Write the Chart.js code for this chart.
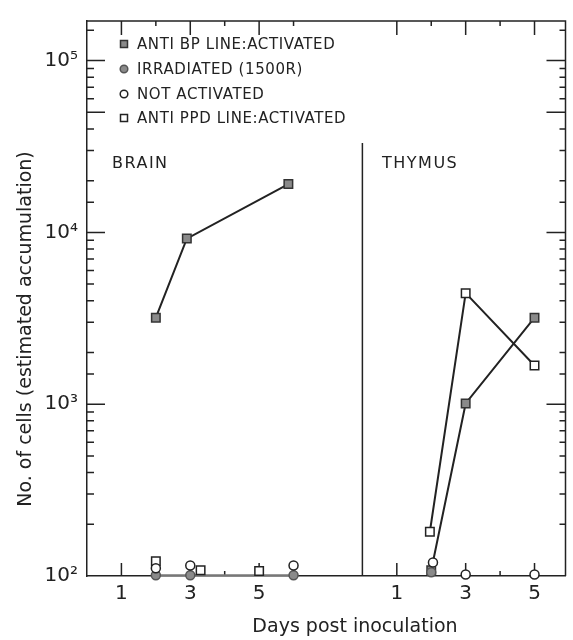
<!DOCTYPE html>
<html>
<head>
<meta charset="utf-8">
<script src="https://cdn.jsdelivr.net/npm/chart.js@4.4.0/dist/chart.umd.min.js"></script>
<style>
  html, body { margin: 0; padding: 0; background: #fff; }
</style>
</head>
<body>
<canvas id="chart" width="573" height="640"></canvas>
<script>
// days are counted separately in each panel; thymus is drawn 8 days to the right
const thymusOffset = 8;
const xTickDays = [1, 3, 5];
const yDecades = [100, 1000, 10000, 100000];

// BRAIN
const brainAntiBpDays = [2, 2.9, 5.85];
const brainAntiBp = [3190, 9200, 19100];
const brainIrrDays = [2, 3, 6];
const brainIrr = [101, 101, 101];
const brainNotActDays = [2, 3, 6];
const brainNotAct = [111, 115, 115];
const brainPpdDays = [2, 3.3, 5];
const brainPpd = [122, 108, 107];

// THYMUS
const thymAntiBpDays = [2, 3, 5];
const thymAntiBp = [108, 1010, 3190];
const thymIrrDays = [2];
const thymIrr = [105];
const thymNotActDays = [2.05, 3, 5];
const thymNotAct = [120, 102, 102];
const thymPpdDays = [1.96, 3, 5];
const thymPpd = [181, 4430, 1680];

const legendLabels = [
  'ANTI BP LINE:ACTIVATED',
  'IRRADIATED (1500R)',
  'NOT ACTIVATED',
  'ANTI PPD LINE:ACTIVATED'
];

const ink = '#222';
const grey = '#8a8a8a';
const font = 'DejaVu Sans';

const filledSquare = { pointStyle: 'rect', pointRadius: 6, pointBackgroundColor: grey, pointBorderColor: '#333' };
const filledCircle = { pointStyle: 'circle', pointRadius: 4.5, pointBackgroundColor: grey, pointBorderColor: '#555' };
const openCircle = { pointStyle: 'circle', pointRadius: 4.5, pointBackgroundColor: '#fff', pointBorderColor: ink };
const openSquare = { pointStyle: 'rect', pointRadius: 6, pointBackgroundColor: '#fff', pointBorderColor: ink };

function series(label, days, vals, offset, marker, showLine, lineColor) {
  return Object.assign({
    label: label,
    data: days.map((d, i) => ({ x: d + offset, y: vals[i] })),
    showLine: showLine,
    borderColor: lineColor || ink,
    borderWidth: 2,
    pointBorderWidth: 1.5,
    clip: false
  }, marker);
}

const datasets = [
  series('not activated (brain)', brainNotActDays, brainNotAct, 0, openCircle, false),
  series('not activated (thymus)', thymNotActDays, thymNotAct, thymusOffset, openCircle, false),
  series('anti PPD (brain)', brainPpdDays, brainPpd, 0, openSquare, false),
  series('anti PPD (thymus)', thymPpdDays, thymPpd, thymusOffset, openSquare, true),
  series('irradiated (brain)', brainIrrDays, brainIrr, 0, filledCircle, true, '#777'),
  series('irradiated (thymus)', thymIrrDays, thymIrr, thymusOffset, filledCircle, false),
  series('anti BP (brain)', brainAntiBpDays, brainAntiBp, 0, filledSquare, true),
  series('anti BP (thymus)', thymAntiBpDays, thymAntiBp, thymusOffset, filledSquare, true)
];

function drawMarker(ctx, kind, x, y) {
  ctx.lineWidth = 1.5;
  ctx.beginPath();
  if (kind.pointStyle === 'rect') ctx.rect(x - 3.5, y - 3.5, 7, 7);
  else ctx.arc(x, y, 3.8, 0, Math.PI * 2);
  ctx.fillStyle = kind.pointBackgroundColor;
  ctx.strokeStyle = kind.pointBorderColor;
  ctx.fill();
  ctx.stroke();
}

// frame, inward tick marks and the panel divider
const frame = {
  id: 'frame',
  beforeDatasetsDraw(chart) {
    const { ctx, chartArea: a, scales: { x, y } } = chart;
    ctx.save();
    ctx.strokeStyle = ink;
    ctx.lineWidth = 1.5;
    ctx.beginPath();
    ctx.moveTo(a.left, a.top);
    ctx.lineTo(a.right, a.top);
    ctx.lineTo(a.right, a.bottom);
    ctx.stroke();

    y.ticks.forEach(t => {
      const v = t.value;
      if (v <= y.min || v >= y.max) return;
      const m = Math.round(v / Math.pow(10, Math.floor(Math.log10(v) + 1e-9)));
      const long = m === 1 || v === 50000;
      const py = y.getPixelForValue(v);
      ctx.beginPath();
      ctx.moveTo(a.left, py); ctx.lineTo(a.left + (long ? 18 : 7), py);
      ctx.moveTo(a.right, py); ctx.lineTo(a.right - (long ? 19 : 6), py);
      ctx.stroke();
    });

    const panels = [[0, 6], [thymusOffset, 5]];
    panels.forEach(([off, last]) => {
      for (let d = 1; d <= last; d++) {
        const px = x.getPixelForValue(d + off);
        const long = d % 2 === 1;
        ctx.beginPath();
        ctx.moveTo(px, a.top); ctx.lineTo(px, a.top + (long ? 14 : 5));
        ctx.moveTo(px, a.bottom); ctx.lineTo(px, a.bottom - (long ? 13 : 5));
        ctx.stroke();
      }
    });

    const dx = x.getPixelForValue(thymusOffset);
    ctx.beginPath();
    ctx.moveTo(dx, 143);
    ctx.lineTo(dx, a.bottom);
    ctx.stroke();
    ctx.restore();
  },
  afterDraw(chart) {
    const { ctx } = chart;
    ctx.save();
    ctx.fillStyle = ink;
    ctx.textBaseline = 'middle';

    // legend
    const markers = [filledSquare, filledCircle, openCircle, openSquare];
    const rows = [44, 69, 94, 118];
    ctx.font = '15px "' + font + '"';
    ctx.letterSpacing = '0.6px';
    legendLabels.forEach((txt, i) => {
      drawMarker(ctx, markers[i], 124, rows[i]);
      ctx.fillStyle = ink;
      ctx.textAlign = 'left';
      ctx.fillText(txt, 137, rows[i] + 1);
    });

    // panel names
    ctx.font = '16px "' + font + '"';
    ctx.letterSpacing = '1.5px';
    ctx.fillText('BRAIN', 112, 164);
    ctx.fillText('THYMUS', 382, 164);

    // axis titles
    ctx.letterSpacing = '0px';
    ctx.font = '19px "' + font + '"';
    ctx.textAlign = 'center';
    ctx.fillText('Days post inoculation', 355, 627);
    ctx.translate(26, 329);
    ctx.rotate(-Math.PI / 2);
    ctx.fillText('No. of cells (estimated accumulation)', 0, 0);
    ctx.restore();
  }
};

const sup = { 2: '²', 3: '³', 4: '⁴', 5: '⁵' };

new Chart(document.getElementById('chart'), {
  type: 'line',
  data: { datasets: datasets },
  plugins: [frame],
  options: {
    responsive: false,
    animation: false,
    devicePixelRatio: 1,
    layout: { padding: { top: 12, right: 1, left: 0, bottom: 0 } },
    plugins: { legend: { display: false }, tooltip: { enabled: false } },
    scales: {
      x: {
        type: 'linear',
        min: 0,
        max: 13.9,
        grid: { display: false, drawTicks: false },
        border: { display: true, color: ink, width: 1.5 },
        afterBuildTicks: s => {
          s.ticks = xTickDays.concat(xTickDays.map(d => d + thymusOffset)).map(v => ({ value: v }));
        },
        ticks: {
          autoSkip: false,
          maxRotation: 0,
          padding: 6,
          color: ink,
          font: { family: font, size: 20 },
          callback: v => String(v > thymusOffset ? v - thymusOffset : v)
        },
        afterFit: s => { s.height = 64; }
      },
      y: {
        type: 'logarithmic',
        min: 100,
        max: 170000,
        grid: { display: false, drawTicks: false },
        border: { display: true, color: ink, width: 1.5 },
        ticks: {
          autoSkip: false,
          padding: 9,
          color: ink,
          font: { family: font, size: 20 },
          callback: v => yDecades.includes(v) ? '10' + sup[Math.round(Math.log10(v))] : ''
        },
        afterFit: s => { s.width = 87; }
      }
    }
  }
});
</script>
</body>
</html>
